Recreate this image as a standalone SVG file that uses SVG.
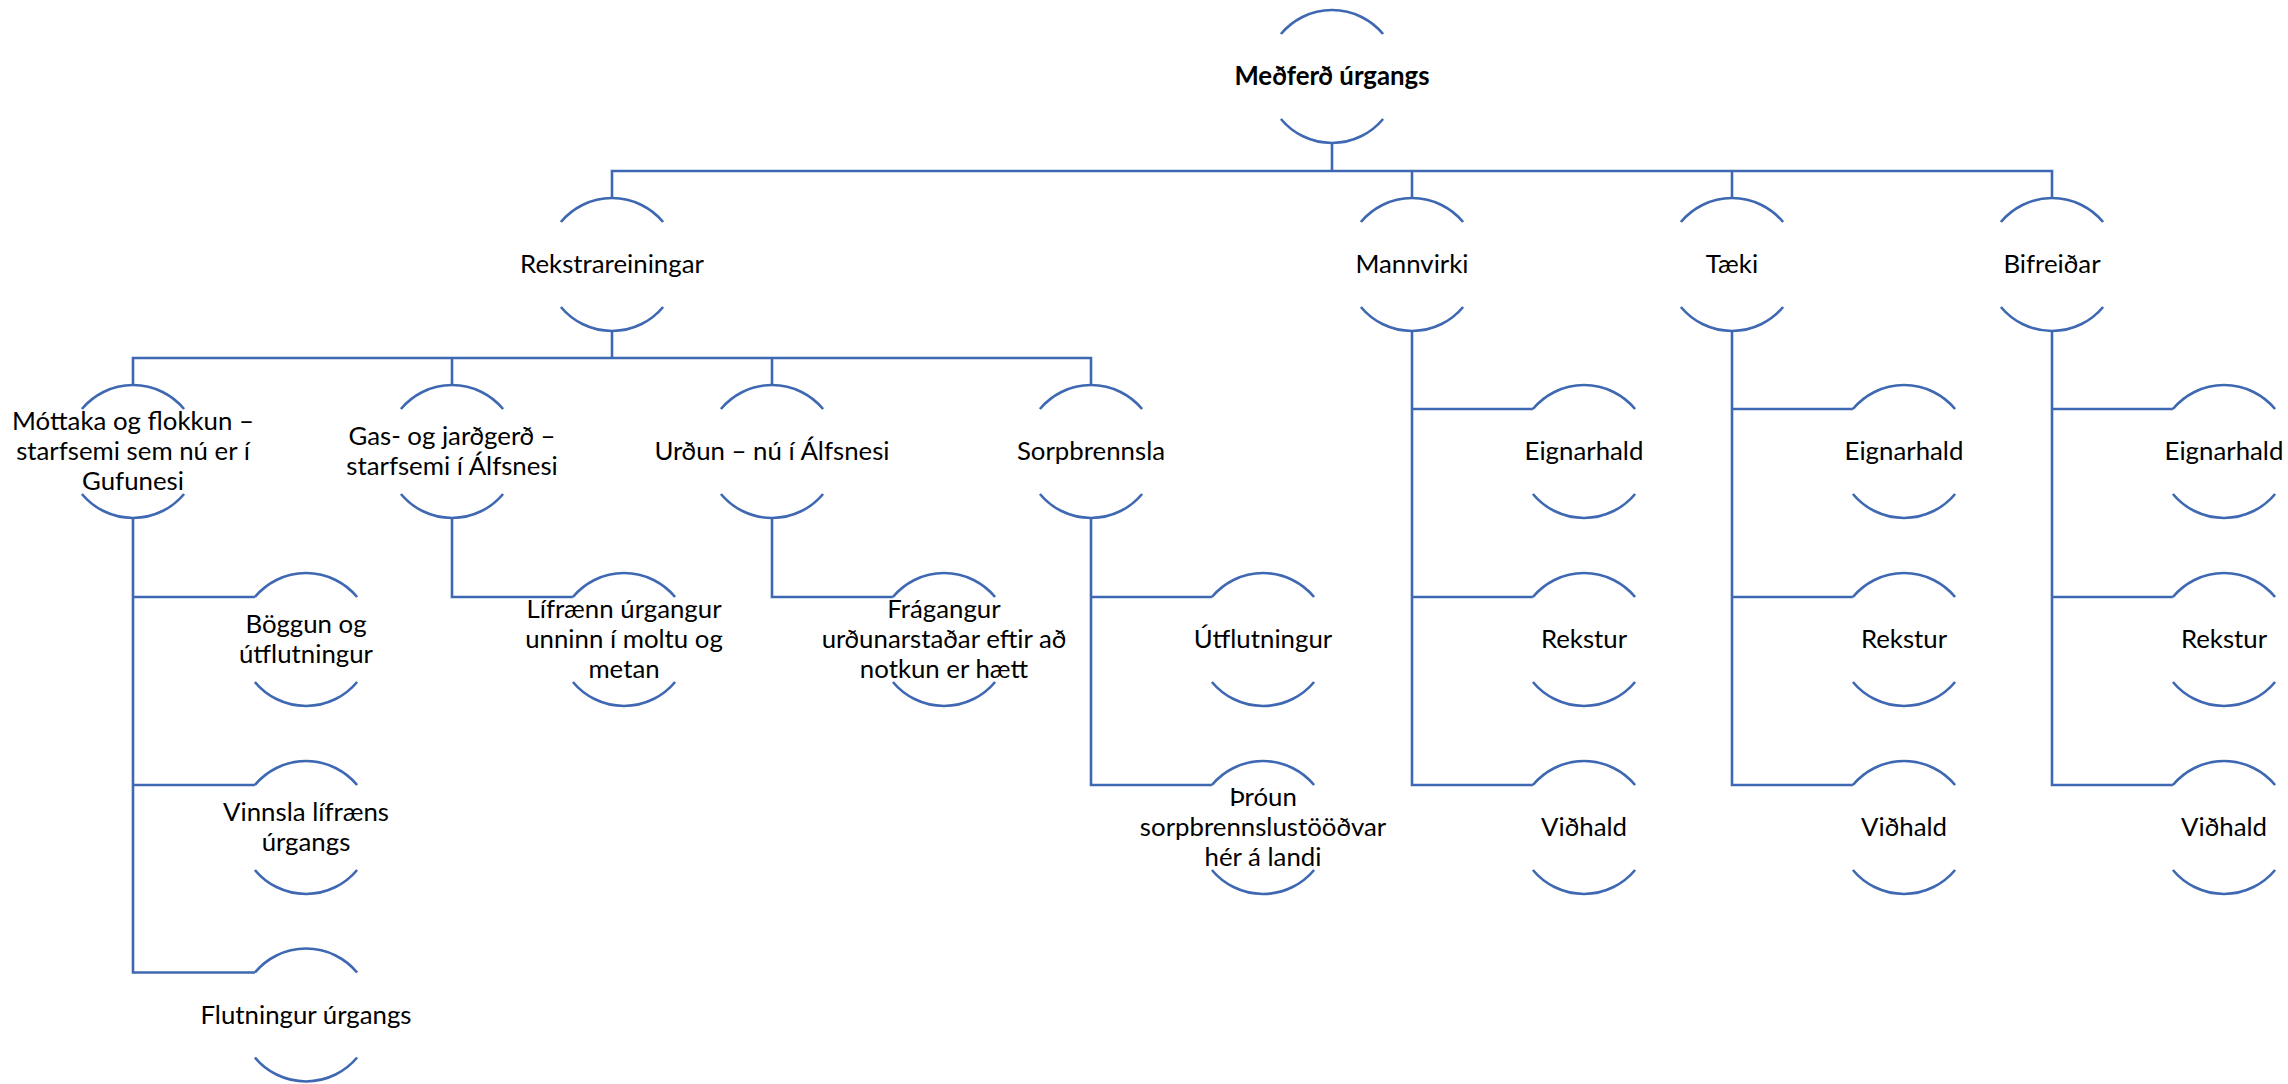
<svg xmlns="http://www.w3.org/2000/svg" xmlns:xlink="http://www.w3.org/1999/xlink" width="2288" height="1084" viewBox="0 0 2288 1084">
<style>
.arc{fill:none;stroke:#3F68B2;stroke-width:2.6}
.con{fill:none;stroke:#3F68B2;stroke-width:2.6}
text{font-family:Lato,"Open Sans","Liberation Sans",sans-serif;font-size:25.8px;fill:#000;text-anchor:middle}
.b{font-weight:bold}
</style>
<defs>
<path id="n" class="arc" d="M-51.1,-42.5 A66.5,66.5 0 0 1 51.1,-42.5 M-51.1,42.5 A66.5,66.5 0 0 0 51.1,42.5"/>
</defs>
<rect width="2288" height="1084" fill="#fff"/>
<g id="connectors" class="con">
<path d="M1332,143 V171 M612,197 V171 H2052 V197 M1412,171 V197 M1732,171 V197"/>
<path d="M612,331 V358 M133,385 V358 H1091 V385 M452,358 V385 M772,358 V385"/>
<path d="M133,518 V972.5 H254.9 M133,597 H254.9 M133,785 H254.9"/>
<path d="M452,518 V597 H572.9"/>
<path d="M772,518 V597 H892.9"/>
<path d="M1091,518 V785 H1211.9 M1091,597 H1211.9"/>
<path d="M1412,331 V785 H1532.9 M1412,409 H1532.9 M1412,597 H1532.9"/>
<path d="M1732,331 V785 H1852.9 M1732,409 H1852.9 M1732,597 H1852.9"/>
<path d="M2052,331 V785 H2172.9 M2052,409 H2172.9 M2052,597 H2172.9"/>
</g>
<g id="root"><use xlink:href="#n" x="1332" y="76.5"/><text class="b" x="1332" y="85">Meðferð úrgangs</text></g>
<g id="rekstrareiningar"><use xlink:href="#n" x="612" y="264.5"/><text x="612" y="273">Rekstrareiningar</text></g>
<g id="mannvirki"><use xlink:href="#n" x="1412" y="264.5"/><text x="1412" y="273">Mannvirki</text></g>
<g id="taeki"><use xlink:href="#n" x="1732" y="264.5"/><text x="1732" y="273">Tæki</text></g>
<g id="bifreidar"><use xlink:href="#n" x="2052" y="264.5"/><text x="2052" y="273">Bifreiðar</text></g>
<g id="mottaka"><use xlink:href="#n" x="133" y="451.5"/><text x="133" y="430">Móttaka og flokkun –</text><text x="133" y="460">starfsemi sem nú er í</text><text x="133" y="490">Gufunesi</text></g>
<g id="gas"><use xlink:href="#n" x="452" y="451.5"/><text x="452" y="445">Gas- og jarðgerð –</text><text x="452" y="475">starfsemi í Álfsnesi</text></g>
<g id="urdun"><use xlink:href="#n" x="772" y="451.5"/><text x="772" y="460">Urðun – nú í Álfsnesi</text></g>
<g id="sorpbrennsla"><use xlink:href="#n" x="1091" y="451.5"/><text x="1091" y="460">Sorpbrennsla</text></g>
<g id="boggun"><use xlink:href="#n" x="306" y="639.5"/><text x="306" y="633">Böggun og</text><text x="306" y="663">útflutningur</text></g>
<g id="vinnsla"><use xlink:href="#n" x="306" y="827.5"/><text x="306" y="821">Vinnsla lífræns</text><text x="306" y="851">úrgangs</text></g>
<g id="flutningur"><use xlink:href="#n" x="306" y="1015"/><text x="306" y="1023.5">Flutningur úrgangs</text></g>
<g id="lifraenn"><use xlink:href="#n" x="624" y="639.5"/><text x="624" y="618">Lífrænn úrgangur</text><text x="624" y="648">unninn í moltu og</text><text x="624" y="678">metan</text></g>
<g id="fragangur"><use xlink:href="#n" x="944" y="639.5"/><text x="944" y="618">Frágangur</text><text x="944" y="648">urðunarstaðar eftir að</text><text x="944" y="678">notkun er hætt</text></g>
<g id="utflutningur"><use xlink:href="#n" x="1263" y="639.5"/><text x="1263" y="648">Útflutningur</text></g>
<g id="throun"><use xlink:href="#n" x="1263" y="827.5"/><text x="1263" y="806">Þróun</text><text x="1263" y="836">sorpbrennslustööðvar</text><text x="1263" y="866">hér á landi</text></g>
<g id="m-eignarhald"><use xlink:href="#n" x="1584" y="451.5"/><text x="1584" y="460">Eignarhald</text></g>
<g id="m-rekstur"><use xlink:href="#n" x="1584" y="639.5"/><text x="1584" y="648">Rekstur</text></g>
<g id="m-vidhald"><use xlink:href="#n" x="1584" y="827.5"/><text x="1584" y="836">Viðhald</text></g>
<g id="t-eignarhald"><use xlink:href="#n" x="1904" y="451.5"/><text x="1904" y="460">Eignarhald</text></g>
<g id="t-rekstur"><use xlink:href="#n" x="1904" y="639.5"/><text x="1904" y="648">Rekstur</text></g>
<g id="t-vidhald"><use xlink:href="#n" x="1904" y="827.5"/><text x="1904" y="836">Viðhald</text></g>
<g id="b-eignarhald"><use xlink:href="#n" x="2224" y="451.5"/><text x="2224" y="460">Eignarhald</text></g>
<g id="b-rekstur"><use xlink:href="#n" x="2224" y="639.5"/><text x="2224" y="648">Rekstur</text></g>
<g id="b-vidhald"><use xlink:href="#n" x="2224" y="827.5"/><text x="2224" y="836">Viðhald</text></g>
</svg>
